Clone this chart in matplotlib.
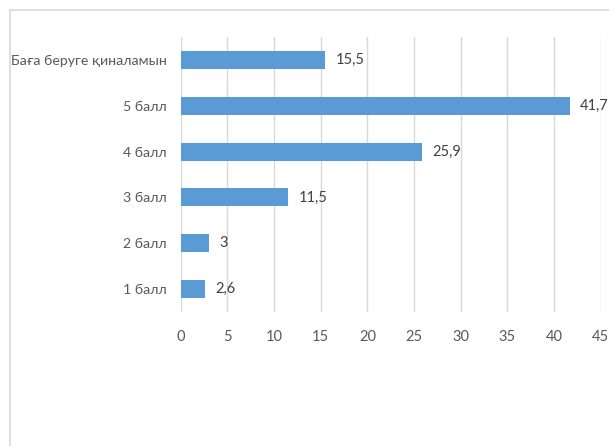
import matplotlib
matplotlib.use('Agg')
from matplotlib import pyplot as plt
from matplotlib.patches import Rectangle

plt.rcParams['font.family'] = ['Lato', 'DejaVu Sans']

categories = ['1 балл', '2 балл', '3 балл', '4 балл', '5 балл', 'Баға беруге қиналамын']
values = [2.6, 3, 11.5, 25.9, 41.7, 15.5]
x_ticks = list(range(0, 50, 5))

W, H = 609, 446
fig = plt.figure(figsize=(W / 100, H / 100), dpi=100)

# light frame around the chart area (only left/top visible in the picture)
fig.patches.append(Rectangle((10 / W, -0.1), 1.2, (H - 10) / H + 0.1,
                             transform=fig.transFigure, fill=False,
                             edgecolor='#d9d9d9', linewidth=1.2))

ax = fig.add_axes([180.7 / W, (H - 312) / H, 420 / W, 275 / H])
y = list(range(len(categories)))
ax.barh(y, values, height=0.39, color='#5b9bd5', zorder=3)

for yi, v in zip(y, values):
    ax.text(v + 1.1, yi, f'{v:g}'.replace('.', ','), va='center', ha='left',
            fontsize=10.5, color='#404040')

ax.set_xlim(0, 45)
ax.set_ylim(-0.5, len(categories) - 0.5)
ax.set_xticks(x_ticks)
ax.set_yticks(y)
ax.set_yticklabels(categories, fontsize=10.2)
ax.grid(axis='x', color='#d9d9d9', linewidth=1, zorder=0)
for s in ax.spines.values():
    s.set_visible(False)
ax.tick_params(axis='both', length=0, labelcolor='#595959')
ax.tick_params(axis='x', pad=13, labelsize=10.5)
ax.tick_params(axis='y', pad=10)

fig.savefig('out.png', dpi=100)
